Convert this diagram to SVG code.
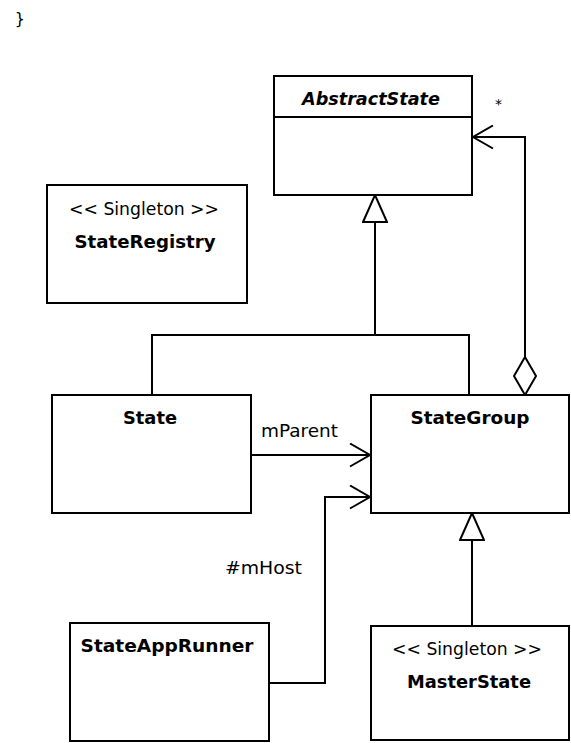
<svg xmlns="http://www.w3.org/2000/svg" width="571" height="743" viewBox="0 0 571 743">
<style>
.box{fill:#fff;stroke:#000;stroke-width:2}
.ln{fill:none;stroke:#000;stroke-width:2}
.t{font-family:"DejaVu Sans","Liberation Sans",sans-serif;font-size:17px;fill:#000}
.b{font-weight:bold;font-size:18px}
.c{text-anchor:middle}
.s{font-size:14px}
</style>
<defs>
<marker id="tri" viewBox="-1 -1 29 26" markerWidth="29" markerHeight="26" refX="27" refY="12" orient="auto" markerUnits="userSpaceOnUse">
<path d="M0,0 L27,12 L0,24 Z" fill="#fff" stroke="#000" stroke-width="2"/>
</marker>
<marker id="arr" viewBox="-1 -1 23 25" markerWidth="23" markerHeight="25" refX="20" refY="11.5" orient="auto" markerUnits="userSpaceOnUse">
<path d="M0,0 L20,11.5 L0,23" fill="none" stroke="#000" stroke-width="2"/>
</marker>
<marker id="dia" viewBox="-1 -1 40 24" markerWidth="40" markerHeight="24" refX="0" refY="11" orient="auto" markerUnits="userSpaceOnUse">
<path d="M0,11 L19,0 L38,11 L19,22 Z" fill="#fff" stroke="#000" stroke-width="2"/>
</marker>
</defs>
<rect width="571" height="743" fill="#fff"/>
<text x="15" y="24" font-family="'DejaVu Sans Mono','Liberation Mono',monospace" font-size="16">}</text>

<g id="connectors">
<path class="ln" d="M152,395 V335 H469 V395"/>
<path class="ln" d="M375,335 V195" marker-end="url(#tri)"/>
<path class="ln" d="M472,626 V513" marker-end="url(#tri)"/>
<path class="ln" d="M525,395 V137 H473" marker-start="url(#dia)" marker-end="url(#arr)"/>
<path class="ln" d="M251,455 H370" marker-end="url(#arr)"/>
<path class="ln" d="M269,683 H325 V497 H370" marker-end="url(#arr)"/>
<text class="t s" x="495" y="109">*</text>
<text class="t" x="261" y="437" textLength="77" lengthAdjust="spacingAndGlyphs">mParent</text>
<text class="t" x="225" y="574" textLength="77" lengthAdjust="spacingAndGlyphs">#mHost</text>
</g>

<g id="AbstractState">
<rect class="box" x="274" y="76" width="198" height="119"/>
<line class="ln" x1="274" y1="117" x2="472" y2="117"/>
<text class="t b c" x="371" y="105" font-style="italic" textLength="138" lengthAdjust="spacingAndGlyphs">AbstractState</text>
</g>

<g id="StateRegistry">
<rect class="box" x="47" y="185" width="200" height="118"/>
<text class="t c" x="144" y="215" textLength="150" lengthAdjust="spacingAndGlyphs">&lt;&lt; Singleton &gt;&gt;</text>
<text class="t b c" x="145" y="248" textLength="141" lengthAdjust="spacingAndGlyphs">StateRegistry</text>
</g>

<g id="State">
<rect class="box" x="52" y="395" width="199" height="118"/>
<text class="t b c" x="150" y="424" textLength="54" lengthAdjust="spacingAndGlyphs">State</text>
</g>

<g id="StateGroup">
<rect class="box" x="371" y="395" width="198" height="118"/>
<text class="t b c" x="470" y="424" textLength="119" lengthAdjust="spacingAndGlyphs">StateGroup</text>
</g>

<g id="StateAppRunner">
<rect class="box" x="70" y="623" width="199" height="118"/>
<text class="t b c" x="167" y="652" textLength="173" lengthAdjust="spacingAndGlyphs">StateAppRunner</text>
</g>

<g id="MasterState">
<rect class="box" x="371" y="626" width="198" height="114"/>
<text class="t c" x="467" y="655" textLength="150" lengthAdjust="spacingAndGlyphs">&lt;&lt; Singleton &gt;&gt;</text>
<text class="t b c" x="469" y="688" textLength="124" lengthAdjust="spacingAndGlyphs">MasterState</text>
</g>
</svg>
